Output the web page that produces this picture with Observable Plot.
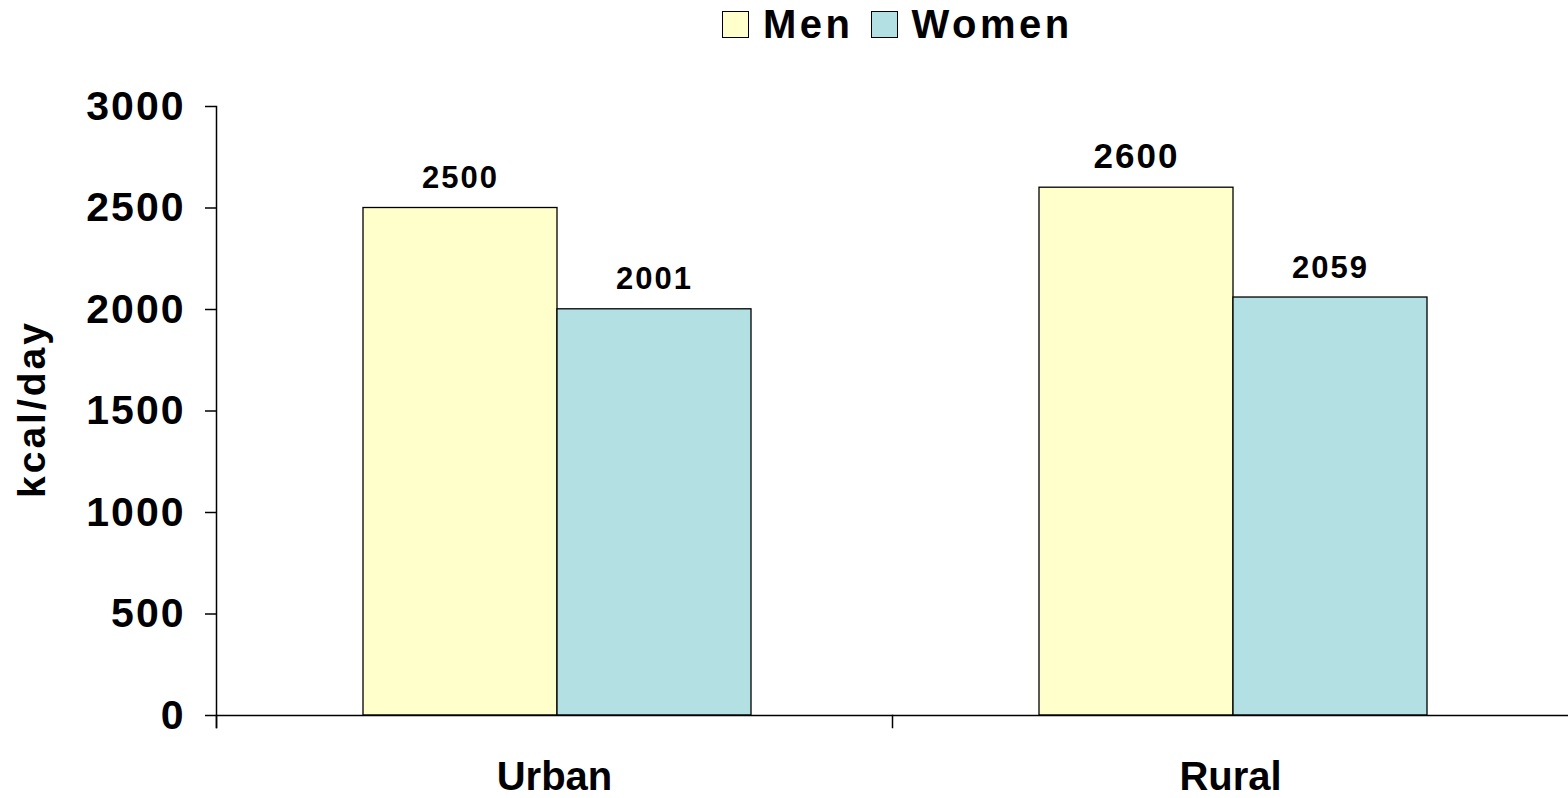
<!DOCTYPE html>
<html>
<head>
<meta charset="utf-8">
<script src="https://cdn.jsdelivr.net/npm/d3@7"></script>
<script src="https://cdn.jsdelivr.net/npm/@observablehq/plot@0.6"></script>
<style>
  html, body { margin: 0; padding: 0; background: #fff; }
  body { width: 1568px; height: 798px; overflow: hidden; font-family: "Liberation Sans", Arial, sans-serif; }
  #legend { position: relative; height: 50px; }
  #legend .items { position: absolute; left: 722px; top: 4px; display: flex; align-items: center; font-weight: bold; font-size: 40px; letter-spacing: 3.5px; color: #000; }
  #legend .sw { width: 25px; height: 25px; border: 1.5px solid #000; margin-right: 14px; }
  #legend .item { display: flex; align-items: center; margin-right: 17px; line-height: 1; }
  #chart svg text { letter-spacing: 2px; }
  #chart svg .fxlab text { letter-spacing: 0; }
  #chart svg .ylab text { letter-spacing: 3px; }
</style>
</head>
<body>
<div id="legend"><div class="items"></div></div>
<div id="chart"></div>
<script>
const categories = ["Urban", "Rural"];
const sexes = ["Men", "Women"];
const menValues = [2500, 2600];
const womenValues = [2001, 2059];
const yTicks = [0, 500, 1000, 1500, 2000, 2500, 3000];
const colors = ["#FFFFCC", "#B3E0E3"];

const data = categories.flatMap((c, i) => [
  {category: c, sex: sexes[0], value: menValues[i]},
  {category: c, sex: sexes[1], value: womenValues[i]}
]);

// legend
const items = document.querySelector("#legend .items");
sexes.forEach((s, i) => {
  const it = document.createElement("div");
  it.className = "item";
  const sw = document.createElement("div");
  sw.className = "sw";
  sw.style.background = colors[i];
  const t = document.createElement("span");
  t.textContent = s;
  it.appendChild(sw);
  it.appendChild(t);
  items.appendChild(it);
});

const W = 1568, H = 748, MT = 56, MB = 83;
const plotH = H - MT - MB;

const chart = Plot.plot({
  width: W,
  height: H,
  marginLeft: 216,
  marginRight: 0,
  marginTop: MT,
  marginBottom: MB,
  style: {fontFamily: '"Liberation Sans", Arial, sans-serif', fontWeight: "bold", color: "#000", background: "#fff"},
  fx: {domain: categories, padding: 0},
  x: {domain: sexes, paddingInner: 0, paddingOuter: 0.74, align: 0.51, axis: null},
  y: {domain: [0, 3000]},
  color: {domain: sexes, range: colors},
  marks: [
    Plot.barY(data, {fx: "category", x: "sex", y: "value", fill: "sex", stroke: "#000", strokeWidth: 1.3}),
    Plot.ruleY([0], {stroke: "#000", strokeWidth: 1.5}),
    Plot.frame({anchor: "left", facetAnchor: "left", insetBottom: -12, stroke: "#000", strokeWidth: 1.5}),
    Plot.frame({anchor: "left", insetTop: plotH, insetBottom: -12, stroke: "#000", strokeWidth: 1.5}),
    Plot.text(data, {
      fx: "category", x: "sex", y: "value",
      text: d => String(d.value),
      dy: -20, lineAnchor: "bottom",
      fontSize: d => (d.category === "Rural" && d.sex === "Men") ? 35 : 31,
      fontWeight: "bold", fill: "#000"
    }),
    Plot.axisY({
      ticks: yTicks, tickSize: 11, tickPadding: 20, tickFormat: d => String(d),
      fontSize: 41, fontWeight: "bold", label: null, strokeWidth: 1.5, stroke: "#000"
    }),
    Plot.axisFx({
      anchor: "bottom", tickSize: 0, tickPadding: 46, fontSize: 40, fontWeight: "bold",
      label: null, className: "fxlab"
    }),
    Plot.text(["kcal/day"], {
      text: d => d, frameAnchor: "left", textAnchor: "middle", rotate: -90, dx: -184, dy: -2,
      fontSize: 39, fontWeight: "bold", fill: "#000", facetAnchor: "left", className: "ylab"
    })
  ]
});
document.getElementById("chart").appendChild(chart);
</script>
</body>
</html>
